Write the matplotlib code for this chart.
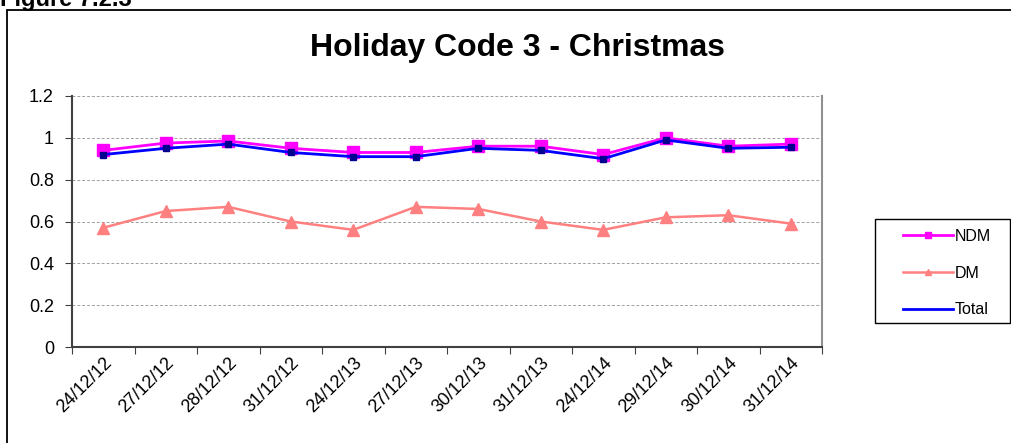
import matplotlib
matplotlib.use("Agg")
import matplotlib.pyplot as plt
from matplotlib.patches import Rectangle
from matplotlib.lines import Line2D
import numpy as np

plt.rcParams['font.family'] = ['Liberation Sans', 'DejaVu Sans']

categories = ["24/12/12", "27/12/12", "28/12/12", "31/12/12", "24/12/13", "27/12/13",
              "30/12/13", "31/12/13", "24/12/14", "29/12/14", "30/12/14", "31/12/14"]
ndm = [0.94, 0.975, 0.985, 0.95, 0.93, 0.93, 0.96, 0.96, 0.92, 1.0, 0.96, 0.97]
dm = [0.57, 0.65, 0.67, 0.60, 0.56, 0.67, 0.66, 0.60, 0.56, 0.62, 0.63, 0.59]
total = [0.92, 0.95, 0.97, 0.93, 0.91, 0.91, 0.95, 0.94, 0.90, 0.99, 0.95, 0.955]
yticks = [0, 0.2, 0.4, 0.6, 0.8, 1, 1.2]
yticklabels = ["0", "0.2", "0.4", "0.6", "0.8", "1", "1.2"]

W, H = 1011, 443
fig = plt.figure(figsize=(W / 100, H / 100), dpi=100)

# outer frame
fig.patches.append(Rectangle((7 / W, -0.1), 1.2, (H - 10) / H + 0.1, transform=fig.transFigure,
                             fill=False, edgecolor='black', linewidth=1.3))
fig.text(0 / W, 1 - (-12) / H, "Figure 7.2.3", fontsize=17, fontweight='bold', ha='left', va='top')

ax = fig.add_axes([72 / W, 1 - 347 / H, (822 - 72) / W, (347 - 96) / H])
x = np.arange(len(categories))
ax.plot(x, dm, color='#FF8080', marker='^', markersize=8, linewidth=1.8, label='DM', zorder=3)
ax.plot(x, ndm, color='#FF00FF', marker='s', markersize=9, linewidth=2.0, label='NDM', zorder=4)
ax.plot(x, total, color='#0000FF', marker='s', markersize=4, markerfacecolor='#000090',
        markeredgecolor='#000090', linewidth=2.0, label='Total', zorder=5)

ax.set_xlim(-0.5, len(categories) - 0.5)
ax.set_ylim(0, 1.2)
ax.set_yticks(yticks)
ax.set_yticklabels(yticklabels, fontsize=13)
ax.yaxis.grid(True, linestyle=(0, (3, 2)), color='#A0A0A0', linewidth=0.7)
ax.set_axisbelow(True)

ax.set_xticks(np.arange(len(categories) + 1) - 0.5)
ax.set_xticklabels([])
ax.set_xticks(x, minor=True)
ax.set_xticklabels(categories, minor=True, rotation=45, ha='right', rotation_mode='anchor', fontsize=13)
ax.tick_params(axis='x', which='minor', length=0, pad=5)
ax.tick_params(axis='x', which='major', length=5, direction='out', color='#404040')
ax.tick_params(axis='y', length=5, direction='out', color='#404040', pad=8)

ax.spines['left'].set_color('#404040')
ax.spines['bottom'].set_color('#404040')
ax.spines['left'].set_linewidth(1.5)
ax.spines['bottom'].set_linewidth(1.5)
ax.spines['top'].set_visible(False)
ax.spines['right'].set_color('#909090')
ax.spines['right'].set_linewidth(1.5)

fig.text(517 / W, 1 - 48 / H, "Holiday Code 3 - Christmas", fontsize=23, fontweight='bold',
         ha='center', va='center')

# legend box
fig.patches.append(Rectangle((875 / W, 1 - 323 / H), (1010 - 875) / W, (323 - 219) / H,
                             transform=fig.transFigure, fill=True, facecolor='white',
                             edgecolor='black', linewidth=1.0, zorder=1))
leg_handles = [
    Line2D([], [], color='#FF00FF', marker='s', markersize=5, linewidth=2.0),
    Line2D([], [], color='#FF8080', marker='^', markersize=5, linewidth=1.8),
    Line2D([], [], color='#0000FF', linewidth=2.0),
]
leg = fig.legend(leg_handles, ['NDM', 'DM', 'Total'],
                 loc='upper left', bbox_to_anchor=(903 / W, 1 - 229 / H),
                 frameon=False, fontsize=11.5,
                 handlelength=3.1, labelspacing=1.35, borderpad=0, borderaxespad=0,
                 handletextpad=0.15)
leg.set_zorder(5)

fig.savefig("out.png", dpi=100)
